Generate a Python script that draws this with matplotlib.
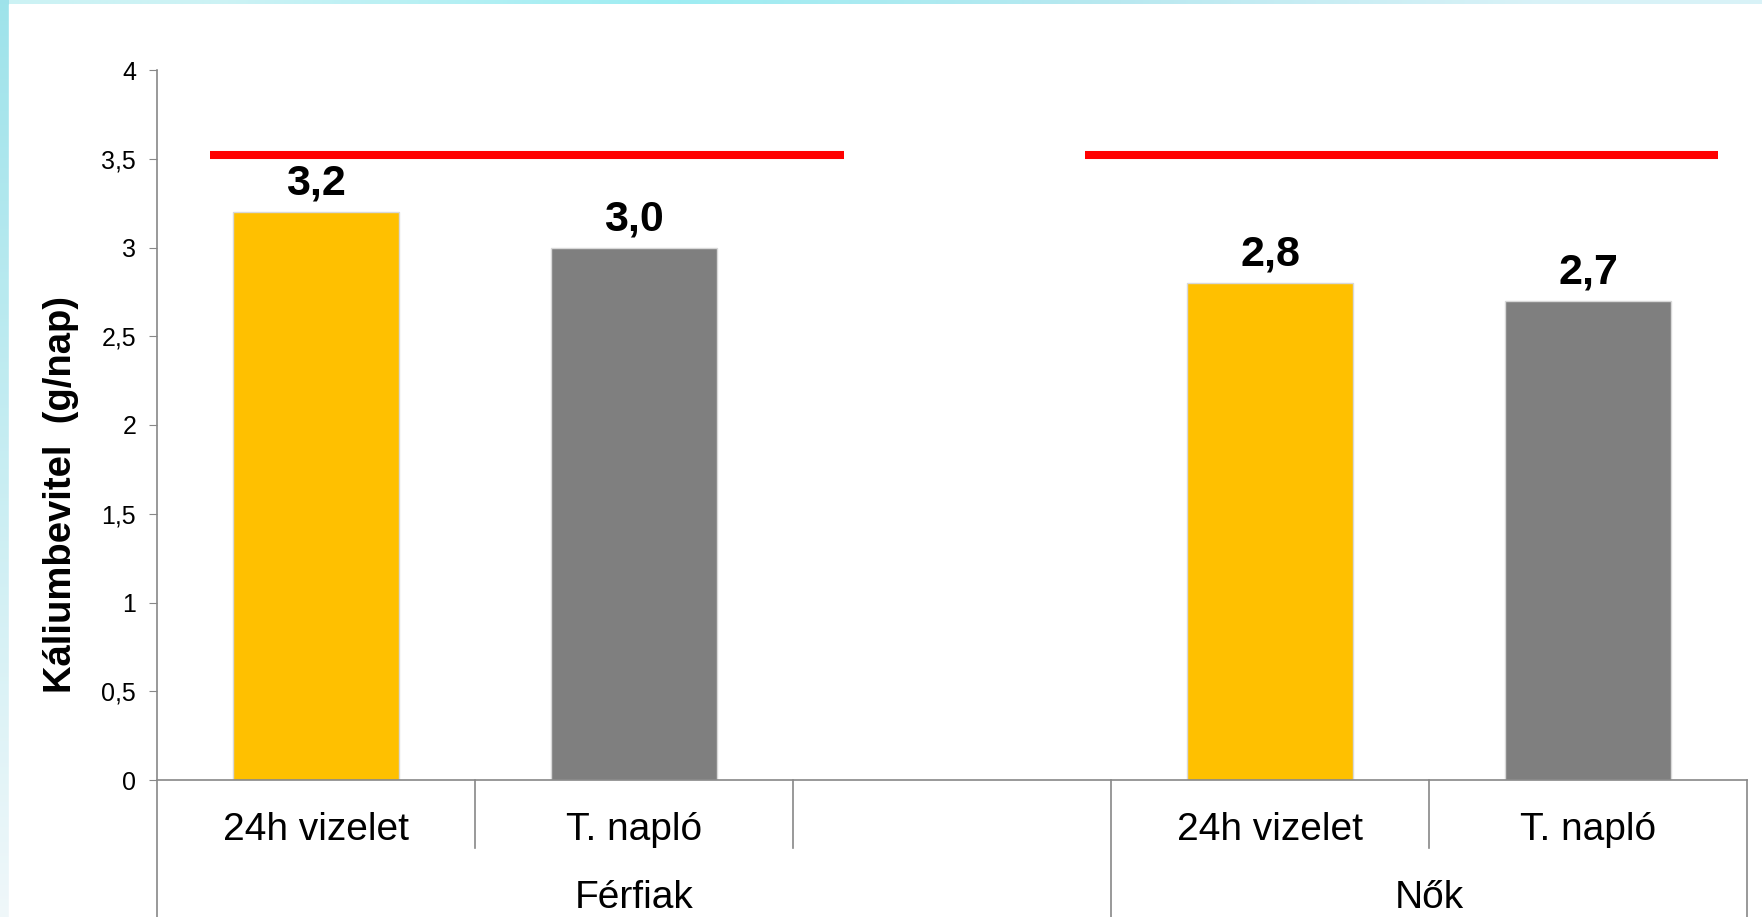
import numpy as np
import matplotlib
matplotlib.use("Agg")
import matplotlib.pyplot as plt
import matplotlib.transforms as mtransforms

plt.rcParams['font.family'] = ['Liberation Sans', 'DejaVu Sans']

# adatok
categories = ['24h vizelet', 'T. napló', '', '24h vizelet', 'T. napló']
values = [3.2, 3.0, None, 2.8, 2.7]
bar_colors = ['#FFC000', '#7F7F7F', None, '#FFC000', '#7F7F7F']
value_labels = ['3,2', '3,0', '', '2,8', '2,7']
groups = ['Férfiak', 'Nők']
group_slots = [(0, 3), (3, 5)]      # category index ranges of each group
reference = [3.52, 3.52]            # red reference line per group
yticks = [0, 0.5, 1, 1.5, 2, 2.5, 3, 3.5, 4]
ytick_labels = ['0', '0,5', '1', '1,5', '2', '2,5', '3', '3,5', '4']

W, H = 1762, 917
fig = plt.figure(figsize=(W / 100, H / 100), dpi=100)

# cyan frame in the background
bg = fig.add_axes([0, 0, 1, 1], zorder=-10)
grad = np.linspace(0, 1, 256)
left_col = np.stack([0.62 + 0.32 * grad, 0.89 + 0.08 * grad, 0.92 + 0.06 * grad], axis=1)
img = np.repeat(left_col[:, None, :], 2, axis=1)
bg.imshow(img, extent=[0, 1, 0, 1], aspect='auto', origin='upper')
bg.add_patch(plt.Rectangle((9 / W, 0), 1, 1 - 4 / H, color='white', zorder=2))
top = np.array([[0.80, 0.95, 0.96], [0.62, 0.93, 0.95], [0.72, 0.91, 0.94], [0.85, 0.95, 0.97]])
bg.imshow(top[None, :, :], extent=[9 / W, 1, 1 - 4 / H, 1], aspect='auto', zorder=3,
          interpolation='bilinear')
bg.set_xlim(0, 1)
bg.set_ylim(0, 1)
bg.axis('off')

ax = fig.add_axes([157 / W, (H - 780) / H, (1747 - 157) / W, 710 / H])
ax.set_facecolor('none')

x = np.arange(len(categories))
for i, v in enumerate(values):
    if v is None:
        continue
    ax.bar(x[i], v, width=0.52, color=bar_colors[i], edgecolor='#d8d8d8', linewidth=1, zorder=2)
    ax.annotate(value_labels[i], (x[i], v), xytext=(0, 6), textcoords='offset points',
                ha='center', va='bottom', fontsize=31, fontweight='bold')

# reference lines
ref_spans = [(-0.334, 1.659), (2.419, 4.41)]
for (a, b), r in zip(ref_spans, reference):
    ax.plot([a, b], [r, r], color='#FF0000', linewidth=5.8, solid_capstyle='butt', zorder=3)

ax.set_xlim(-0.5, len(categories) - 0.5)
ax.set_ylim(0, 4)
ax.set_yticks(yticks)
ax.set_yticklabels(ytick_labels, fontsize=18)
ax.tick_params(axis='y', length=6, color='#888888', pad=9)
ax.set_xticks([])
for s in ['top', 'right']:
    ax.spines[s].set_visible(False)
ax.spines['left'].set_visible(False)
ax.spines['bottom'].set_color('#888888')
ax.spines['bottom'].set_linewidth(1.2)

trans = mtransforms.blended_transform_factory(ax.transData, ax.transAxes)
# category labels and separators
for i, c in enumerate(categories):
    ax.text(x[i], -0.07, c, transform=trans, ha='center', va='center', fontsize=28)
group_edges = {g[0] for g in group_slots} | {g[1] for g in group_slots}
for k in range(len(categories) + 1):
    xb = k - 0.5
    y_end = -0.3 if k in group_edges else -0.0958
    y_top = 1.0 if k == 0 else 0
    ax.plot([xb, xb], [y_top, y_end], transform=trans, color='#888888', linewidth=1.2,
            clip_on=False, zorder=1)
for g, (s, e) in zip(groups, group_slots):
    ax.text((s + e - 1) / 2, -0.166, g, transform=trans, ha='center', va='center', fontsize=28)

ax.set_ylabel('Káliumbevitel  (g/nap)', fontsize=27.5, fontweight='bold')
ax.yaxis.set_label_coords(-0.049, 0.402)

fig.savefig('out.png', dpi=100)
